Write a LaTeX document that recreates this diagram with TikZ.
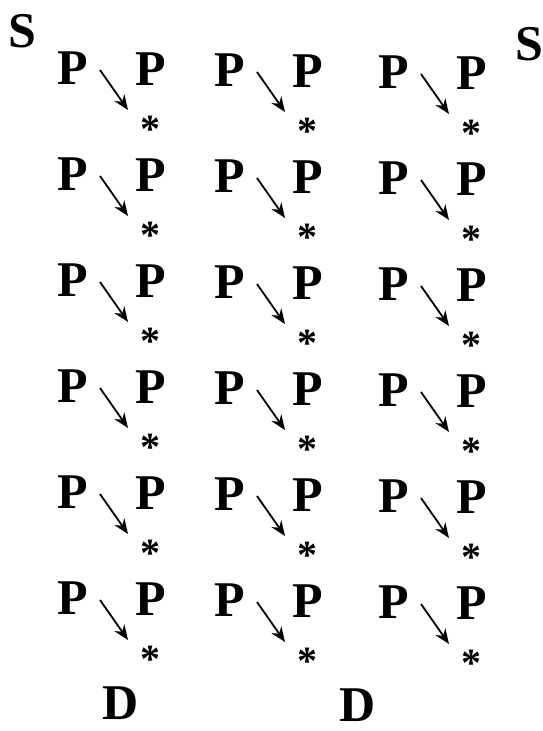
\documentclass[tikz,border=0pt]{standalone}
\usepackage{fontspec}
\setmainfont{Liberation Serif}
\usetikzlibrary{arrows.meta}

\newcommand*{\colxs}{73/1,230/2,394/3}
\newcommand*{\rowtop}{68}
\newcommand*{\rowgap}{106}

\begin{document}
\begin{tikzpicture}
[
	x=1pt,
	y=-1pt,
	letter/.style={inner sep=0pt,font=\fontsize{50}{50}\selectfont\bfseries},
	starmark/.style={inner sep=0pt,font=\fontsize{40}{40}\selectfont\bfseries},
	pil/.style={line width=1.8pt,-{Stealth[length=15pt,width=12pt]}}
]

	\useasboundingbox (0,0) rectangle (542,731);

	% the grid of cells
	\foreach \r in {1,...,6} {
		\foreach \x/\c in \colxs {
			\pgfmathsetmacro{\y}{\rowtop+(\r-1)*\rowgap+(\c-1)*2}
			\node[letter] (lp-\r-\c) at (\x,\y) {P};
			\node[letter] (rp-\r-\c) at (\x+78,\y+1) {P};
			\node[starmark] (st-\r-\c) at (\x+77,\y+61) {*};
			\coordinate (a-\r-\c) at (\x+27,\y+2);
			\coordinate (b-\r-\c) at (\x+55,\y+42);
			\draw[pil] (a-\r-\c) -- (b-\r-\c);
		}
	}

	% corner letters
	\node[letter] (s-left) at (22,31) {S};
	\node[letter] (s-right) at (529,44) {S};
	\node[letter] (d-left) at (121,703) {D};
	\node[letter] (d-right) at (358,705) {D};

\end{tikzpicture}
\end{document}
